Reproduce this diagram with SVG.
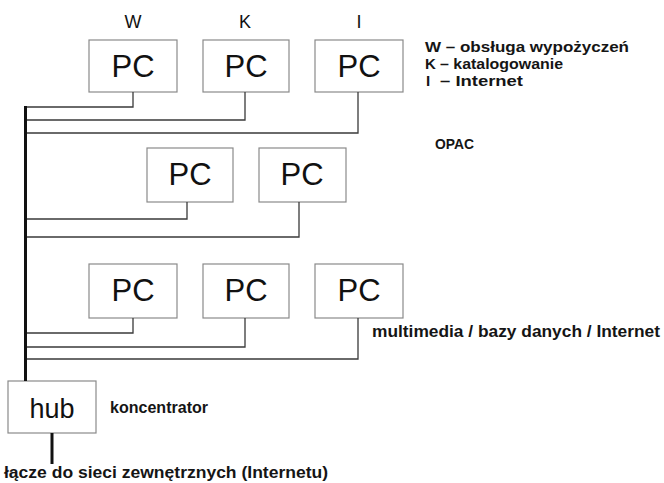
<svg xmlns="http://www.w3.org/2000/svg" width="664" height="483" viewBox="0 0 664 483">
  <style>
    .box { fill: #ffffff; stroke: #8a8a8a; stroke-width: 1.2; }
    .pc { font-family: "Liberation Sans", Arial, sans-serif; font-size: 31px; fill: #111; text-anchor: middle; }
    .lbl { font-family: "Liberation Sans", Arial, sans-serif; font-size: 18px; fill: #111; text-anchor: middle; }
    .note { font-family: "Liberation Sans", Arial, sans-serif; font-weight: bold; font-size: 16px; fill: #151515; }
    .wire { fill: none; stroke: #3a3a3a; stroke-width: 1.3; }
    .bus { fill: none; stroke: #111; stroke-width: 3; }
  </style>
  <rect width="664" height="483" fill="#ffffff"/>

  <!-- workstation labels -->
  <text class="lbl" x="133" y="28">W</text>
  <text class="lbl" x="245" y="28">K</text>
  <text class="lbl" x="359" y="28">I</text>

  <!-- top row -->
  <g id="pc-w"><rect class="box" x="89" y="40" width="88" height="52"/><text class="pc" x="133" y="77">PC</text></g>
  <g id="pc-k"><rect class="box" x="203" y="40" width="86" height="52"/><text class="pc" x="246" y="77">PC</text></g>
  <g id="pc-i"><rect class="box" x="315" y="40" width="88" height="52"/><text class="pc" x="359" y="77">PC</text></g>

  <!-- OPAC row -->
  <g id="pc-opac1"><rect class="box" x="147" y="148" width="86" height="54"/><text class="pc" x="190" y="185">PC</text></g>
  <g id="pc-opac2"><rect class="box" x="259" y="148" width="87" height="54"/><text class="pc" x="302" y="185">PC</text></g>

  <!-- multimedia row -->
  <g id="pc-m1"><rect class="box" x="89" y="264" width="88" height="54"/><text class="pc" x="133" y="301">PC</text></g>
  <g id="pc-m2"><rect class="box" x="203" y="264" width="86" height="54"/><text class="pc" x="246" y="301">PC</text></g>
  <g id="pc-m3"><rect class="box" x="315" y="264" width="88" height="54"/><text class="pc" x="359" y="301">PC</text></g>

  <!-- hub -->
  <g id="hub"><rect class="box" x="8" y="381" width="88" height="52"/><text class="pc" x="52" y="418" style="font-size:27px">hub</text></g>

  <!-- cabling -->
  <g id="connectors">
    <line class="bus" x1="25.5" y1="106" x2="25.5" y2="381"/>
    <line class="bus" x1="52" y1="433" x2="52" y2="464"/>
    <polyline class="wire" points="27,107 133,107 133,92"/>
    <polyline class="wire" points="27,120 245,120 245,92"/>
    <polyline class="wire" points="27,133 358,133 358,92"/>
    <polyline class="wire" points="27,219 187,219 187,202"/>
    <polyline class="wire" points="27,237 299,237 299,202"/>
    <polyline class="wire" points="27,333 133,333 133,318"/>
    <polyline class="wire" points="27,347 245,347 245,318"/>
    <polyline class="wire" points="27,359 358,359 358,318"/>
  </g>

  <!-- legend and notes -->
  <text class="note" x="425" y="52" style="font-size:15px" textLength="204" lengthAdjust="spacingAndGlyphs">W – obsługa wypożyczeń</text>
  <text class="note" style="font-size:15px"><tspan x="425" y="69">K</tspan><tspan x="440" y="69" textLength="123" lengthAdjust="spacingAndGlyphs">– katalogowanie</tspan></text>
  <text class="note" style="font-size:15px"><tspan x="426" y="86">I</tspan><tspan x="440" y="86" textLength="83" lengthAdjust="spacingAndGlyphs">– Internet</tspan></text>
  <text class="note" x="435" y="149" style="font-size:14px" textLength="39" lengthAdjust="spacingAndGlyphs">OPAC</text>
  <text class="note" x="372" y="337" textLength="288" lengthAdjust="spacingAndGlyphs">multimedia / bazy danych / Internet</text>
  <text class="note" x="110" y="413" textLength="98" lengthAdjust="spacingAndGlyphs">koncentrator</text>
  <text class="note" x="4" y="478" style="font-size:17px" textLength="324" lengthAdjust="spacingAndGlyphs">łącze do sieci zewnętrznych (Internetu)</text>
</svg>
